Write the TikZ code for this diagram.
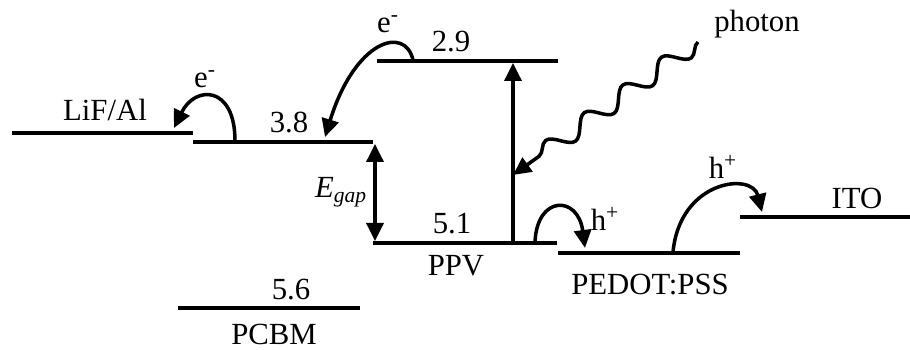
\documentclass[tikz,border=0pt]{standalone}
\usepackage{fontspec}
\setmainfont{Liberation Serif}
\usetikzlibrary{arrows.meta, decorations.pathmorphing}

\begin{document}
\begin{tikzpicture}[
    x=0.02cm, y=-0.02cm,
    level/.style={line width=2.8pt},
    hop/.style={line width=2pt, -{Triangle[length=3.6mm, width=3.4mm]}},
    txt/.style={font=\fontsize{17.5}{20}\selectfont, inner sep=0pt}
]
\useasboundingbox (0,0) rectangle (910,350);

\draw[level] (12,133) -- (193,133);
    \draw[level] (193,142) -- (373,142);
    \draw[level] (377,61) -- (558,61);
    \draw[level] (373,243) -- (557,243);
    \draw[level] (558,253) -- (740,253);
    \draw[level] (740,217) -- (910,217);
    \draw[level] (178,308) -- (360,308);

\node[txt] (lif) at (105,110) {LiF/Al};
    \node[txt] (lumoA) at (289,123) {3.8};
    \node[txt] (lumoD) at (451,42) {2.9};
    \node[txt] (homoD) at (452,224) {5.1};
    \node[txt] (ppv) at (456,266) {PPV};
    \node[txt] (homoA) at (291,290) {5.6};
    \node[txt] (pcbm) at (274,334) {PCBM};
    \node[txt] (pedot) at (650,285) {PEDOT:PSS};
    \node[txt] (ito) at (857,198) {ITO};
    \node[txt] (photon) at (757,24) {photon};
    \node[txt] (gap) at (341,192) {\textit{E}\textsubscript{\textit{gap}}};
    \node[txt] (eA) at (205,79) {e\textsuperscript{-}};
    \node[txt] (eD) at (388,24) {e\textsuperscript{-}};
    \node[txt] (hD) at (605,219) {h\textsuperscript{+}};
    \node[txt] (hP) at (723,167) {h\textsuperscript{+}};

\coordinate (gapTop) at (375,144);
    \coordinate (gapBot) at (375,241);
    \coordinate (excA) at (513,242);
    \coordinate (excB) at (513,63);
    \coordinate (phA) at (698,42);
    \coordinate (phB) at (513,175);
    \coordinate (eAs) at (235,141);
    \coordinate (eAe) at (174,128);
    \coordinate (eDs) at (413,60);
    \coordinate (eDe) at (325,137);
    \coordinate (hDs) at (535,242);
    \coordinate (hDe) at (585,248);
    \coordinate (hPs) at (673,252);
    \coordinate (hPe) at (762,212);

\draw[hop, {Triangle[length=3.6mm, width=3.4mm]}-{Triangle[length=3.6mm, width=3.4mm]}] (gapTop) -- (gapBot);
    \draw[hop] (excA) -- (excB);
    \draw[hop, decorate, decoration={snake, amplitude=1.8mm, segment length=9.5mm, post length=5mm}] (phA) -- (phB);
    \draw[hop] (eAs) .. controls (235,85) and (195,85) .. (eAe);
    \draw[hop] (eDs) .. controls (405,25) and (355,40) .. (eDe);
    \draw[hop] (hDs) .. controls (537,195) and (578,195) .. (hDe);
    \draw[hop] (hPs) .. controls (680,180) and (752,172) .. (hPe);

\end{tikzpicture}
\end{document}
